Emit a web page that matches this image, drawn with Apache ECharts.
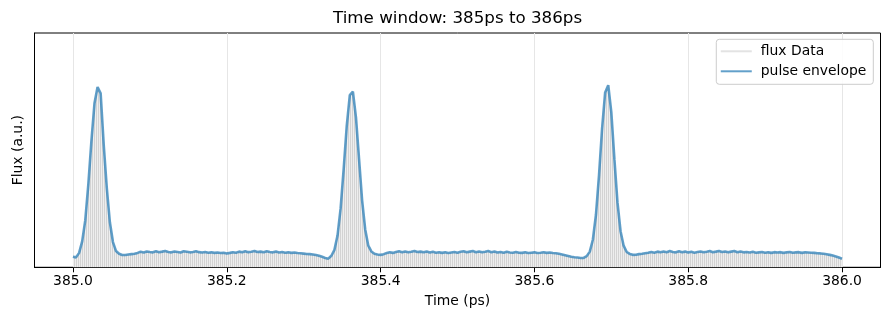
<!DOCTYPE html>
<html><head><meta charset="utf-8">
<script src="https://cdn.jsdelivr.net/npm/echarts@6/dist/echarts.min.js"></script>
<style>html,body{margin:0;padding:0;background:#fff}#c{width:890px;height:320px}</style>
</head><body><div id="c"></div>
<script>
const titleText = 'Time window: 385ps to 386ps';
const xName = 'Time (ps)';
const yName = 'Flux (a.u.)';
const seriesNames = ['flux Data', 'pulse envelope'];
const xTicks = [385.0, 385.2, 385.4, 385.6, 385.8, 386.0];
const tStart = 385.0;   // first sample time (ps)
const tStep = 0.004;    // sample spacing (ps)
const envelope = [
  0.059,0.055,0.080,0.144,0.260,0.460,0.700,0.910,1.000,0.965,
  0.680,0.440,0.250,0.140,0.090,0.075,0.068,0.068,0.071,0.073,
  0.075,0.080,0.086,0.082,0.088,0.085,0.083,0.089,0.084,0.087,
  0.091,0.085,0.083,0.088,0.085,0.082,0.089,0.086,0.083,0.085,
  0.089,0.084,0.082,0.085,0.081,0.083,0.080,0.082,0.079,0.081,
  0.077,0.080,0.084,0.081,0.087,0.083,0.089,0.084,0.086,0.091,
  0.085,0.087,0.083,0.089,0.085,0.083,0.087,0.082,0.085,0.081,
  0.083,0.080,0.082,0.079,0.078,0.076,0.074,0.073,0.071,0.068,
  0.064,0.058,0.052,0.048,0.064,0.097,0.176,0.325,0.545,0.785,
  0.955,0.975,0.830,0.600,0.370,0.210,0.120,0.088,0.075,0.071,
  0.069,0.073,0.079,0.083,0.080,0.085,0.089,0.084,0.088,0.083,
  0.086,0.091,0.085,0.087,0.083,0.088,0.082,0.086,0.081,0.084,
  0.080,0.083,0.079,0.082,0.085,0.081,0.086,0.089,0.083,0.087,
  0.090,0.084,0.088,0.083,0.086,0.090,0.084,0.088,0.082,0.085,
  0.081,0.086,0.082,0.081,0.085,0.081,0.080,0.083,0.079,0.081,
  0.083,0.079,0.081,0.084,0.080,0.082,0.079,0.078,0.075,0.071,
  0.067,0.063,0.059,0.056,0.054,0.052,0.052,0.062,0.087,0.153,
  0.290,0.510,0.770,0.970,1.010,0.860,0.600,0.360,0.200,0.120,
  0.085,0.074,0.069,0.070,0.073,0.075,0.078,0.081,0.085,0.081,
  0.087,0.083,0.088,0.084,0.090,0.085,0.083,0.089,0.084,0.087,
  0.082,0.086,0.081,0.085,0.088,0.083,0.086,0.090,0.084,0.087,
  0.091,0.085,0.088,0.083,0.087,0.090,0.084,0.088,0.083,0.085,
  0.082,0.086,0.081,0.083,0.085,0.081,0.084,0.080,0.084,0.082,
  0.084,0.080,0.083,0.085,0.081,0.083,0.084,0.080,0.083,0.082,
  0.081,0.080,0.078,0.077,0.075,0.072,0.069,0.065,0.060,0.054,0.048
];

const pts = envelope.map((v, i) => [+(tStart + i * tStep).toFixed(3), v]);

// hatch pattern imitating the dense oscillating flux lines
const pc = document.createElement('canvas');
pc.width = 2; pc.height = 4;
const g = pc.getContext('2d');
g.fillStyle = '#d3d3d3'; g.fillRect(0, 0, 1, 4);
g.fillStyle = '#eeeeee'; g.fillRect(1, 0, 1, 4);

const FONT = 'DejaVu Sans';
const chart = echarts.init(document.getElementById('c'), null, {renderer: 'canvas'});
chart.setOption({
  animation: false,
  backgroundColor: '#fff',
  textStyle: {fontFamily: FONT},
  title: {
    text: titleText, left: 333, top: 10, padding: 0,
    textStyle: {fontFamily: FONT, fontSize: 16.7, fontWeight: 'normal', color: '#000'}
  },
  grid: {left: 34.5, right: 9.5, top: 33, height: 234.3, show: true, borderColor: '#000', borderWidth: 1, containLabel: false},
  legend: {
    orient: 'vertical', right: 16.7, top: 39.3,
    itemWidth: 31, itemHeight: 14, itemGap: 6,
    padding: [5, 7, 6, 3.5],
    backgroundColor: 'rgba(255,255,255,0.85)', borderColor: '#cccccc', borderWidth: 1, borderRadius: 3,
    itemStyle: {opacity: 0},
    textStyle: {fontFamily: FONT, fontSize: 13.9, color: '#000', padding: [0, 0, 0, 4]},
    data: seriesNames
  },
  xAxis: {
    type: 'value', min: 384.95, max: 386.05,
    axisLine: {show: true, onZero: false, lineStyle: {color: '#000', width: 1}},
    axisTick: {show: true, customValues: xTicks, length: 5, lineStyle: {color: '#000', width: 1}},
    axisLabel: {customValues: xTicks, formatter: v => Number(v).toFixed(1), color: '#000', fontSize: 13.9, fontFamily: FONT, margin: 7},
    splitLine: {show: true, lineStyle: {color: '#e6e6e6', width: 1}},
    name: xName, nameLocation: 'middle', nameGap: 27,
    nameTextStyle: {color: '#000', fontSize: 13.9, fontFamily: FONT}
  },
  yAxis: {
    type: 'value', min: 0, max: 1.3,
    axisLine: {show: true, lineStyle: {color: '#000', width: 1}},
    axisTick: {show: false}, axisLabel: {show: false}, splitLine: {show: false},
    name: yName, nameLocation: 'middle', nameGap: 9, nameRotate: 90,
    nameTextStyle: {color: '#000', fontSize: 13.9, fontFamily: FONT}
  },
  series: [
    {
      name: seriesNames[0], type: 'line', data: pts, symbol: 'none', z: 2,
      itemStyle: {color: '#e3e3e3'},
      lineStyle: {width: 0.8, color: '#e3e3e3'},
      areaStyle: {color: {image: pc, repeat: 'repeat'}, opacity: 1}
    },
    {
      name: seriesNames[1], type: 'line', data: pts, symbol: 'none', z: 3,
      itemStyle: {color: 'rgba(31,119,180,0.7)'},
      lineStyle: {width: 2.6, color: 'rgba(31,119,180,0.7)'}
    }
  ]
});
</script></body></html>
